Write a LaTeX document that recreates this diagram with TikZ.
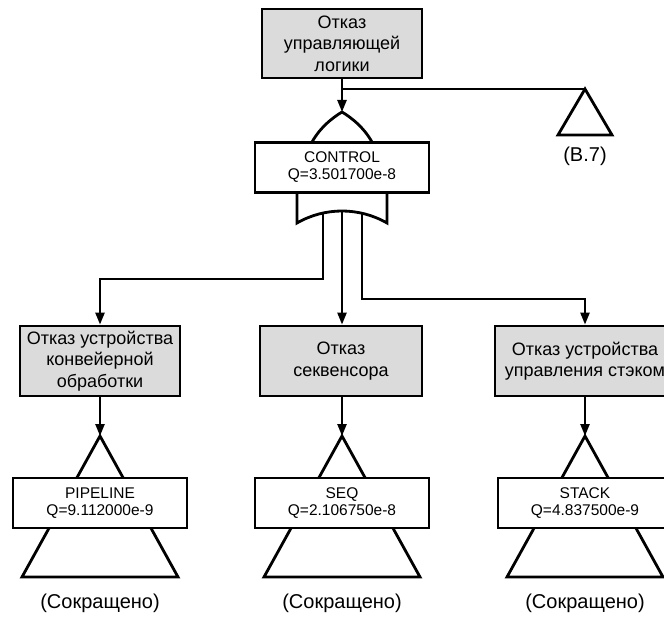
\documentclass[tikz,border=0pt]{standalone}
\usepackage{fontspec}
\setmainfont{Liberation Sans}
\usetikzlibrary{arrows.meta}
\newcommand{\evfont}{\fontsize{18}{21.5}\selectfont}
\newcommand{\dtfont}{\fontsize{15.5}{17}\selectfont}
\newcommand{\lbfont}{\fontsize{20}{24}\selectfont}
\begin{document}
\begin{tikzpicture}[x=1pt,y=-1pt,
  evbox/.style={draw, line width=2.8pt, fill=black!14, align=center, font=\evfont, inner sep=0pt},
  dtbox/.style={draw, line width=2.8pt, fill=white, align=center, font=\dtfont, inner sep=0pt,
                minimum width=174pt, minimum height=50pt},
  gline/.style={line width=2.8pt, line join=miter},
  conn/.style={line width=2.4pt},
  arr/.style={conn, -{Triangle[length=12pt,width=9pt]}},
  lbl/.style={font=\lbfont, inner sep=0pt}]
\clip (0,0) rectangle (664,617);
\fill[white] (0,0) rectangle (664,617);

% top event
\node[evbox, minimum width=160pt, minimum height=69pt] (top) at (342,43.5) {Отказ\\управляющей\\логики};

% transfer triangle (B.7)
\coordinate (b7apex) at (585,89);
\draw[gline, fill=white] (b7apex) -- (612,135) -- (558,135) -- cycle;
\node[lbl] (b7lbl) at (585,156) {(В.7)};
\coordinate (tj) at (342,89);
\draw[conn] (tj) -- (b7apex);

% OR gate
\coordinate (gapex) at (342,112);
\draw[gline] (310,146) .. controls (318,129) and (332,118) .. (gapex) .. controls (352,118) and (366,129) .. (374,146);
\draw[gline] (297,190) -- (297,223) .. controls (325,207) and (359,207) .. (387,223) -- (387,190);
\node[dtbox] (ctrl) at (342,167.5) {CONTROL\\Q=3.501700e-8};
\draw[arr] (top.south) -- (gapex);

% gate outputs
\coordinate (oL) at (323,213);
\coordinate (oM) at (342,211);
\coordinate (oR) at (362,213);
\coordinate (jL) at (323,279);
\coordinate (jR) at (362,299);

% intermediate events
\node[evbox, minimum width=160pt, minimum height=70pt] (e1) at (100,361) {Отказ устройства\\конвейерной\\обработки};
\node[evbox, minimum width=162pt, minimum height=70pt] (e2) at (341,361) {Отказ\\секвенсора};
\node[evbox, minimum width=180pt, minimum height=70pt] (e3) at (585,361) {Отказ устройства\\управления стэком};

\draw[arr] (oL) -- (jL) -| (e1.north);
\draw[arr] (oM) -- (oM |- e2.north);
\draw[arr] (oR) -- (jR) -| (e3.north);

% transfer-in triangles with data boxes
\foreach \x/\n in {100/1, 342/2, 585/3} {
  \coordinate (t\n) at (\x,436);
  \draw[gline, fill=white] (t\n) -- (\x+78,577) -- (\x-78,577) -- cycle;
}
\node[dtbox] (d1) at (100,503) {PIPELINE\\Q=9.112000e-9};
\node[dtbox] (d2) at (342,503) {SEQ\\Q=2.106750e-8};
\node[dtbox] (d3) at (585,503) {STACK\\Q=4.837500e-9};

\draw[arr] (e1.south) -- (t1);
\draw[arr] (e2.south -| t2) -- (t2);
\draw[arr] (e3.south) -- (t3);

\node[lbl] (s1) at (100,603) {(Сокращено)};
\node[lbl] (s2) at (342,603) {(Сокращено)};
\node[lbl] (s3) at (585,603) {(Сокращено)};
\end{tikzpicture}
\end{document}
